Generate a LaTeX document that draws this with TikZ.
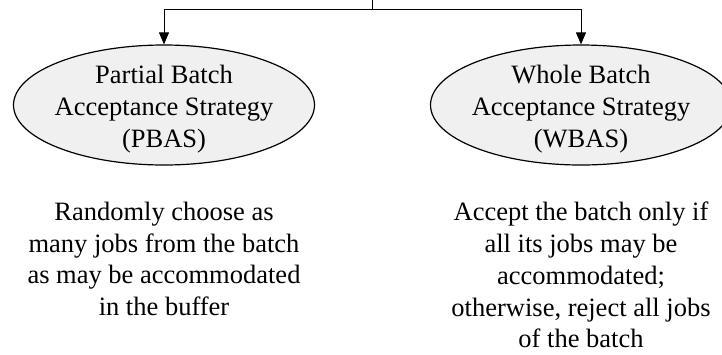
\documentclass[tikz,border=0pt]{standalone}
\usepackage{fontspec}
\setmainfont{Liberation Serif}
\usetikzlibrary{shapes.geometric,arrows.meta}
\begin{document}
\begin{tikzpicture}[x=1pt,y=-1pt,
  strat/.style={ellipse,draw=black,line width=1.2pt,fill=black!6,
    minimum width=301pt,minimum height=120pt,inner sep=0pt},
  desc/.style={align=center,inner sep=0pt,
    font=\fontsize{26.5pt}{31.8pt}\selectfont},
  conn/.style={line width=1pt},
  arr/.style={conn,-{Triangle[length=12pt,width=10pt]}}]
\clip (0,0) rectangle (722,354);
\useasboundingbox (0,0) rectangle (722,354);
\node[strat] (pbas) at (164,105) {};
\node[strat] (wbas) at (581,105) {};
\node[desc] (ptext) at (164,109) {Partial Batch\\Acceptance Strategy\\(PBAS)};
\node[desc] (wtext) at (581,109) {Whole Batch\\Acceptance Strategy\\(WBAS)};
\coordinate (top) at (372,0);
\coordinate (j) at (372,9);
\draw[conn] (top) -- (j);
\draw[arr] (j) -| (pbas.north);
\draw[arr] (j) -| (wbas.north);
\node[desc] (pdesc) at (164,259) {Randomly choose as\\many jobs from the batch\\as may be accommodated\\in the buffer};
\node[desc] (wdesc) at (581,275) {Accept the batch only if\\all its jobs may be\\accommodated;\\otherwise, reject all jobs\\of the batch};
\end{tikzpicture}
\end{document}
